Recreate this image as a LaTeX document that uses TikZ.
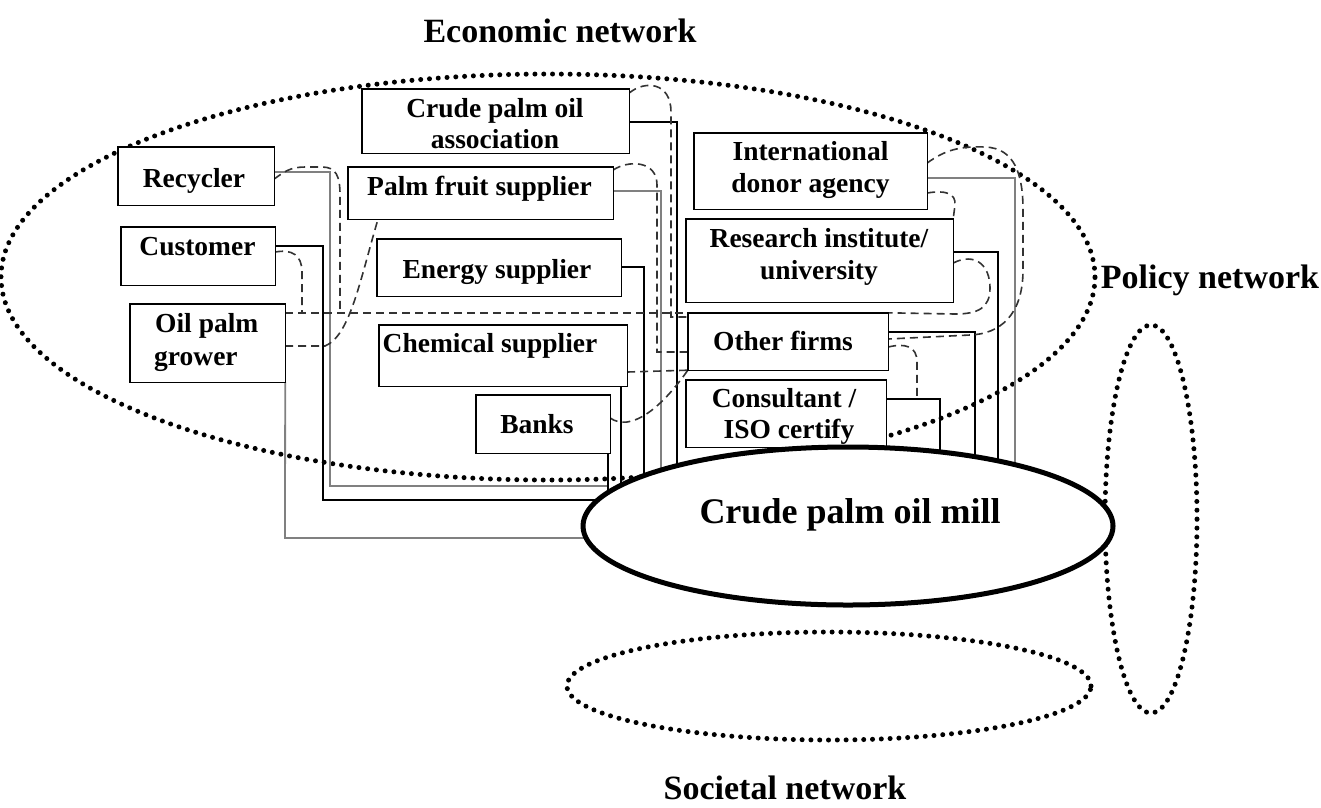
\documentclass[tikz,border=0pt]{standalone}
\usepackage{fontspec}
\setmainfont{Liberation Serif}
\usetikzlibrary{shapes.geometric}
\begin{document}
\begin{tikzpicture}[x=1pt,y=-1pt,
  box/.style={draw, fill=white, line width=1.4pt, inner sep=0pt},
  btext/.style={font=\fontsize{27.5}{31}\selectfont\bfseries, anchor=base, inner sep=0pt},
  solidc/.style={line width=1.4pt, draw=black},
  grayc/.style={line width=1.8pt, draw=black!50},
  dashc/.style={line width=1.6pt, draw=black!80, dash pattern=on 8pt off 5pt},
  netw/.style={line width=5pt, dash pattern=on 0pt off 8.8pt, line cap=round},
  netlbl/.style={font=\fontsize{34}{38}\selectfont\bfseries, anchor=base, inner sep=0pt},
  millstyle/.style={ellipse, inner sep=0pt, minimum width=530pt, minimum height=158pt},
]
\useasboundingbox (0,0) rectangle (1321,807);

% network ellipses
\draw[netw] (548,277) ellipse [x radius=547pt, y radius=203pt];
\draw[netw] (1151,519) ellipse [x radius=46pt, y radius=194pt];
\draw[netw] (829,686) ellipse [x radius=262pt, y radius=54pt];

% named boxes (outlines drawn later, above the connectors)
\path (196,176) node[inner sep=0pt, minimum width=156pt, minimum height=58pt] (recycler) {};
\path (198,256) node[inner sep=0pt, minimum width=154pt, minimum height=58pt] (customer) {};
\path (207.5,343) node[inner sep=0pt, minimum width=155pt, minimum height=78pt] (grower) {};
\path (495.5,121) node[inner sep=0pt, minimum width=267pt, minimum height=64pt] (cpoa) {};
\path (480.5,193) node[inner sep=0pt, minimum width=265pt, minimum height=52pt] (palmfruit) {};
\path (499,267.5) node[inner sep=0pt, minimum width=244pt, minimum height=57pt] (energy) {};
\path (503,355.5) node[inner sep=0pt, minimum width=248pt, minimum height=61pt] (chemical) {};
\path (543,424) node[inner sep=0pt, minimum width=134pt, minimum height=58pt] (banks) {};
\path (810.5,171) node[inner sep=0pt, minimum width=233pt, minimum height=76pt] (donor) {};
\path (819.5,260.5) node[inner sep=0pt, minimum width=267pt, minimum height=83pt] (research) {};
\path (788,341.5) node[inner sep=0pt, minimum width=200pt, minimum height=57pt] (other) {};
\path (786,413.5) node[inner sep=0pt, minimum width=200pt, minimum height=67pt] (consultant) {};
\path (848,526) node[millstyle] (mill) {};

% solid connectors
\draw[grayc] (recycler.east |- 0,172) -- (330,172) -- (330,486) -- (608,486);
\draw[solidc] (customer.east |- 0,246) -- (323,246) -- (323,500) -- (mill.center |- 0,500);
\draw[grayc] (grower.south east) -- (285,538) -- (mill.center |- 0,538);
\draw[solidc] (cpoa.east |- 0,122) -- (677,122) -- (677,0 |- mill.center);
\draw[grayc] (palmfruit.east |- 0,191) -- (661,191) -- (661,0 |- mill.center);
\draw[solidc] (energy.east |- 0,267) -- (644,267) -- (644,0 |- mill.center);
\draw[solidc] (chemical.south -| 621,0) -- (621,0 |- mill.center);
\draw[solidc] (banks.south -| 608,0) -- (608,0 |- mill.center);
\draw[grayc] (donor.east |- 0,178) -- (1015,178) -- (1015,0 |- mill.center);
\draw[solidc] (research.east |- 0,252) -- (998,252) -- (998,0 |- mill.center);
\draw[solidc] (other.east |- 0,332) -- (975,332) -- (975,0 |- mill.center);
\draw[solidc] (consultant.east |- 0,399) -- (940,399) -- (940,0 |- mill.center);

% dashed connectors
\draw[dashc] (grower.east |- 0,313) -- (other.west |- 0,313);
\draw[dashc] (customer.east |- 0,252) .. controls (292,249) and (302,255) .. (302,272) -- (302,313);
\draw[dashc] (recycler.east |- 0,179) .. controls (284,172) and (290,167) .. (305,167) -- (322,167) .. controls (336,167) and (340,176) .. (340,195) -- (340,313);
\draw[dashc] (grower.east |- 0,346) -- (325,346) .. controls (350,336) and (360,280) .. (palmfruit.south -| 378,0);
\draw[dashc] (cpoa.east |- 0,93) .. controls (645,80) and (671,82) .. (671,112) -- (671,317) -- (other.west |- 0,317);
\draw[dashc] (palmfruit.east |- 0,170) .. controls (628,160) and (657,160) .. (657,185) -- (657,352) -- (other.west |- 0,352);
\draw[dashc] (chemical.east |- 0,372) -- (other.south west);
\draw[dashc] (banks.east |- 0,418) .. controls (630,432) and (660,410) .. (other.south west);
\draw[dashc] (donor.east |- 0,163) .. controls (945,150) and (960,146) .. (985,147) .. controls (1015,148) and (1023,175) .. (1023,210) -- (1023,270) .. controls (1023,315) and (1000,334) .. (970,335) -- (other.east |- 0,339);
\draw[dashc] (donor.east |- 0,193) .. controls (945,190) and (956,193) .. (955,205) -- (research.north east);
\draw[dashc] (research.east |- 0,263) .. controls (975,252) and (990,265) .. (990,288) .. controls (990,308) and (978,314) .. (955,314) -- (other.north east);
\draw[dashc] (other.east |- 0,347) .. controls (905,343) and (917,346) .. (917,362) -- (917,399);

% visible box outlines
\foreach \n in {recycler,customer,grower,cpoa,palmfruit,energy,chemical,banks,donor,research,other,consultant}
  \draw[fill=white, line width=1.4pt] (\n.north west) rectangle (\n.south east);
\draw[line width=5pt, fill=white] (mill.center) ellipse [x radius=265pt, y radius=79pt];

% box texts
\node[btext] (t-rec) at (194,187) {Recycler};
\node[btext] (t-cus) at (197.5,255) {Customer};
\node[btext, anchor=base west] (t-gro1) at (155,332) {Oil palm};
\node[btext, anchor=base west] (t-gro2) at (154,365) {grower};
\node[btext] (t-cpoa1) at (495,117) {Crude palm oil};
\node[btext] (t-cpoa2) at (495,148) {association};
\node[btext] (t-pfs) at (479.5,195) {Palm fruit supplier};
\node[btext] (t-ene) at (497,278) {Energy supplier};
\node[btext] (t-che) at (490,352) {Chemical supplier};
\node[btext] (t-ban) at (537,433) {Banks};
\node[btext] (t-don1) at (810.5,160) {International};
\node[btext] (t-don2) at (810.5,192) {donor agency};
\node[btext] (t-res1) at (819,247) {Research institute/};
\node[btext] (t-res2) at (819,279) {university};
\node[btext] (t-oth) at (783,350) {Other firms};
\node[btext] (t-con1) at (784,407) {Consultant /};
\node[btext] (t-con2) at (789,438) {ISO certify};

% labels
\node[netlbl] (l-eco) at (560,42) {Economic network};
\node[netlbl] (l-pol) at (1210,288) {Policy network};
\node[netlbl] (l-soc) at (785,799) {Societal network};
\node[font=\fontsize{36}{40}\selectfont\bfseries, anchor=base, inner sep=0pt] (l-mill) at (850,523) {Crude palm oil mill};
\end{tikzpicture}
\end{document}
